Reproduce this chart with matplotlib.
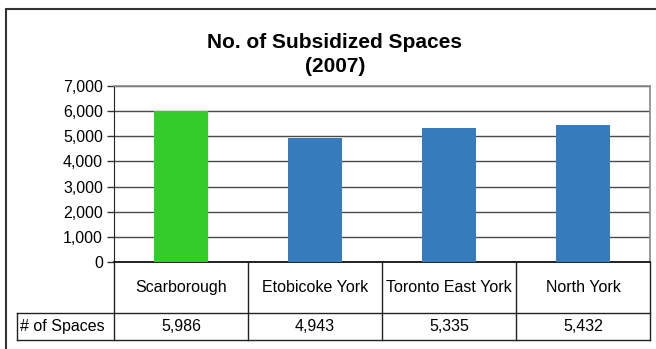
import matplotlib.pyplot as plt
from matplotlib.lines import Line2D
from matplotlib.patches import Rectangle

plt.rcParams['font.family'] = ['Liberation Sans', 'DejaVu Sans']

regions = ["Scarborough", "Etobicoke York", "Toronto East York", "North York"]
spaces = [5986, 4943, 5335, 5432]
bar_colors = ["#33cc2a", "#367bbb", "#367bbb", "#367bbb"]
yticks = [0, 1000, 2000, 3000, 4000, 5000, 6000, 7000]
row_label = "# of Spaces"

W, H = 656, 349
fig = plt.figure(figsize=(W / 100, H / 100), dpi=100)


def fx(x):
    return x / W


def fy(y):
    return 1 - y / H


def hline(x0, x1, y, color="#222222", lw=1.0):
    fig.add_artist(Line2D([fx(x0), fx(x1)], [fy(y), fy(y)], color=color, lw=lw))


def vline(x, y0, y1, color="#222222", lw=1.0):
    fig.add_artist(Line2D([fx(x), fx(x)], [fy(y0), fy(y1)], color=color, lw=lw))


# outer chart frame
fig.add_artist(Rectangle((fx(6), fy(352)), fx(660) - fx(6), fy(9) - fy(352),
                         fill=False, ec="#333333", lw=1.5))

# plot area
left, right, top, bottom = 114, 650, 86, 262
ax = fig.add_axes([fx(left), fy(bottom), fx(right) - fx(left), fy(top) - fy(bottom)])
x = range(len(regions))
ax.bar(x, spaces, width=0.4, color=bar_colors, zorder=3)
ax.set_xlim(-0.5, len(regions) - 0.5)
ax.set_ylim(0, 7000)
ax.set_yticks(yticks)
ax.set_yticklabels([f"{v:,}" for v in yticks], fontsize=11.5)
ax.set_xticks([])
ax.yaxis.grid(True, color="#4a4a4a", lw=1.0, zorder=1)
ax.tick_params(axis="y", direction="out", length=5, width=1, color="#333333", pad=3)
for side in ["top", "right"]:
    ax.spines[side].set_color("#888888")
    ax.spines[side].set_linewidth(1.2)
ax.spines["left"].set_color("#222222")
ax.spines["bottom"].set_color("#111111")
ax.spines["bottom"].set_linewidth(1.3)

fig.text(fx(335), fy(43), "No. of Subsidized Spaces", ha="center", va="center",
         fontsize=15, fontweight="bold")
fig.text(fx(335), fy(66), "(2007)", ha="center", va="center",
         fontsize=15, fontweight="bold")

# data table under the axis
row_top, row_mid, row_bot = bottom, 313, 340
label_left = 17
col_edges = [left + i * (right - left) / len(regions) for i in range(len(regions) + 1)]

for cx in col_edges:
    vline(cx, row_top, row_bot)
vline(label_left, row_mid, row_bot)
hline(label_left, right, row_mid)
hline(label_left, right, row_bot)

for i, (name, val) in enumerate(zip(regions, spaces)):
    cx = (col_edges[i] + col_edges[i + 1]) / 2
    fig.text(fx(cx), fy((row_top + row_mid) / 2), name, ha="center", va="center", fontsize=11.5)
    fig.text(fx(cx), fy((row_mid + row_bot) / 2), f"{val:,}", ha="center", va="center", fontsize=11.5)
fig.text(fx(label_left + 3), fy((row_mid + row_bot) / 2), row_label, ha="left", va="center", fontsize=11.5)

fig.savefig("out.png", dpi=100, facecolor="white")
